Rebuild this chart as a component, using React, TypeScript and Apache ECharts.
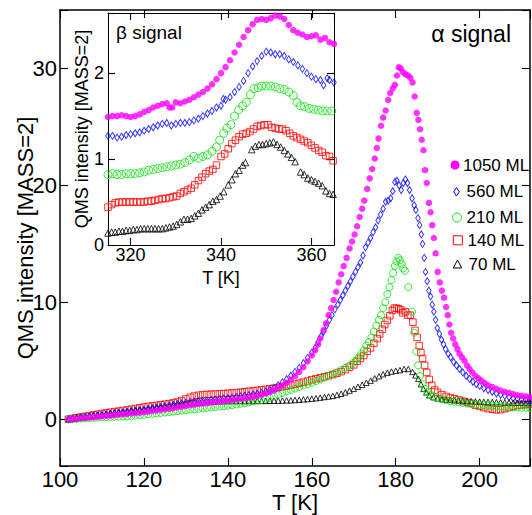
import React, { useEffect, useRef } from 'react';
import * as echarts from 'echarts';

// ---------- main panel (alpha signal) : [T (K), QMS intensity] ----------
const ml1050: number[][] = [
  [102,0],[103,0.03],[104,0.06],[105,0.09],[106,0.12],[107,0.15],[108,0.18],[109,0.21],[110,0.25],[111,0.28],
  [112,0.31],[113,0.35],[114,0.38],[115,0.42],[116,0.45],[117,0.49],[118,0.52],[119,0.56],[120,0.6],[121,0.65],
  [122,0.7],[123,0.75],[124,0.8],[125,0.85],[126,0.9],[127,0.96],[128,1.02],[129,1.08],[130,1.14],[131,1.2],
  [132,1.25],[133,1.3],[134,1.34],[135,1.38],[136,1.43],[137,1.47],[138,1.51],[139,1.55],[140,1.6],[141,1.65],
  [142,1.7],[143,1.75],[144,1.8],[145,1.86],[146,1.93],[147,2.0],[148,2.1],[149,2.2],[150,2.32],[151,2.47],
  [152,2.65],[153,2.88],[154,3.12],[155,3.4],[156,3.7],[157,4.05],[158,4.45],[159,4.95],[160,5.45],[160.8,5.9],
  [161.5,6.4],[162,6.9],[162.8,7.6],[163.4,8.2],[164,8.9],[164.6,9.5],[165.2,10.2],[165.8,10.9],[166.4,11.7],[167,12.4],
  [167.6,13.1],[168.3,13.8],[169,14.6],[169.6,15.2],[170.2,15.8],[170.8,16.5],[171.4,17.3],[172,18.0],[172.5,18.7],[173.2,19.7],
  [173.8,20.6],[174.4,21.4],[175,22.3],[175.5,23.2],[175.9,24.0],[176.5,25.1],[177,25.8],[177.6,26.4],[178.2,27.3],[178.7,27.9],
  [179.3,28.3],[179.8,28.6],[180.3,29.4],[180.7,30.1],[181.2,30.0],[181.7,29.7],[182.3,29.5],[182.9,29.4],[183.5,29.2],[184,28.8],
  [184.5,27.6],[185,26.2],[185.4,25.6],[185.8,24.8],[186.2,23.9],[186.6,23.0],[187,21.3],[187.4,20.2],[187.9,18.5],[188.3,17.7],
  [188.7,16.6],[189.1,15.5],[189.5,14.2],[190,12.6],[190.5,11.7],[191,11.0],[191.5,10.4],[192,9.6],[192.4,8.9],[192.8,8.1],
  [193.2,7.4],[193.7,6.9],[194.2,6.4],[194.7,6.0],[195.2,5.6],[195.8,5.3],[196.4,5.0],[197,4.6],[197.6,4.3],[198.3,4.0],
  [199,3.7],[199.7,3.5],[200.4,3.3],[201.2,3.1],[202,2.9],[203,2.75],[204,2.6],[205,2.45],[206,2.35],[207,2.25],
  [208,2.15],[209,2.05],[210,2.0],[211,1.95],[212,1.9]
];
const ml560: number[][] = [
  [102,0],[103,0.05],[104,0.1],[105,0.15],[106,0.2],[107,0.24],[108,0.28],[109,0.32],[110,0.36],[111,0.41],
  [112,0.46],[113,0.51],[114,0.56],[115,0.6],[116,0.65],[117,0.69],[118,0.73],[119,0.78],[120,0.82],[121,0.88],
  [122,0.94],[123,1.0],[124,1.06],[125,1.12],[126,1.18],[127,1.24],[128,1.3],[129,1.36],[130,1.41],[131,1.46],
  [132,1.5],[133,1.54],[134,1.57],[135,1.6],[136,1.64],[137,1.68],[138,1.72],[139,1.76],[140,1.8],[141,1.85],
  [142,1.9],[143,1.95],[144,2.0],[145,2.06],[146,2.12],[147,2.18],[148,2.25],[149,2.36],[150,2.5],[151,2.68],
  [152,2.9],[153,3.15],[154,3.42],[155,3.72],[156,4.05],[157,4.4],[158,4.8],[159,5.25],[160,5.7],[160.8,6.1],
  [161.5,6.6],[162.2,7.1],[162.8,7.5],[163.5,8.0],[164.2,8.5],[164.8,8.9],[165.5,9.4],[166.2,9.8],[166.8,10.2],[167.4,10.6],
  [168,11.0],[168.6,11.4],[169.2,11.8],[169.8,12.2],[170.4,12.6],[171,13.0],[171.6,13.4],[172.2,14.0],[172.8,14.7],[173.4,15.1],
  [174,15.5],[174.6,16.0],[175.2,16.4],[175.8,17.0],[176.4,17.5],[177,18.0],[177.6,18.6],[178.2,18.7],[178.8,18.9],[179.3,19.5],
  [179.8,20.3],[180.3,20.4],[180.8,20.0],[181.3,19.6],[181.8,20.2],[182.3,20.5],[182.8,20.2],[183.3,19.6],[183.9,18.9],[184.4,18.3],
  [184.8,17.9],[185.3,17.2],[185.7,16.6],[186.1,15.8],[186.4,15.0],[186.8,13.8],[187.1,12.6],[187.5,11.8],[187.9,11.0],[188.3,10.5],
  [188.7,9.8],[189.1,9.2],[189.5,8.5],[189.9,7.8],[190.4,7.3],[190.9,6.8],[191.4,6.4],[191.9,6.0],[192.5,5.6],[193.1,5.3],
  [193.8,4.9],[194.5,4.6],[195.2,4.3],[196,4.0],[196.8,3.7],[197.6,3.45],[198.4,3.2],[199.2,3.0],[200,2.85],[201,2.65],
  [202,2.5],[203,2.35],[204,2.2],[205,2.1],[206,2.0],[207,1.9],[208,1.8],[209,1.75],[210,1.7],[211,1.65],[212,1.6]
];
const ml210: number[][] = [
  [102,0],[103,0.02],[104,0.04],[105,0.06],[106,0.08],[107,0.1],[108,0.12],[109,0.14],[110,0.16],[111,0.18],
  [112,0.2],[113,0.21],[114,0.22],[115,0.24],[116,0.25],[117,0.28],[118,0.31],[119,0.35],[120,0.38],[121,0.42],
  [122,0.46],[123,0.5],[124,0.54],[125,0.58],[126,0.62],[127,0.66],[128,0.7],[129,0.74],[130,0.78],[131,0.82],
  [132,0.85],[133,0.89],[134,0.93],[135,0.97],[136,1.0],[137,1.04],[138,1.08],[139,1.11],[140,1.15],[141,1.2],
  [142,1.26],[143,1.32],[144,1.38],[145,1.45],[146,1.52],[147,1.59],[148,1.65],[149,1.75],[150,1.85],[151,1.95],
  [152,2.1],[153,2.25],[154,2.38],[155,2.5],[156,2.62],[157,2.75],[158,2.88],[159,3.0],[160,3.12],[161,3.25],
  [162,3.4],[163,3.55],[164,3.7],[165,3.85],[166,4.0],[167,4.2],[168,4.4],[169,4.6],[169.8,4.8],[170.5,5.0],
  [171.2,5.3],[171.8,5.6],[172.4,5.9],[173,6.3],[173.6,6.6],[174.2,7.0],[174.8,7.5],[175.4,8.0],[176,8.5],[176.5,8.9],
  [177,9.5],[177.5,10.0],[178,10.7],[178.5,11.3],[179,11.9],[179.4,12.5],[179.8,13.1],[180.2,13.5],[180.6,13.8],[181,13.6],
  [181.4,13.3],[181.8,12.9],[182.2,12.7],[183,11.3],[183.9,9.2],[184.4,7.4],[184.9,5.8],[185.3,4.6],[185.8,3.7],[186.4,3.0],
  [187,2.6],[187.6,2.35],[188.3,2.1],[189,1.95],[190,1.8],[191,1.7],[192,1.62],[193,1.55],[194,1.5],[195,1.45],
  [196,1.4],[197,1.35],[198,1.3],[199,1.26],[200,1.22],[201,1.19],[202,1.16],[203,1.13],[204,1.1],[205,1.08],
  [206,1.06],[207,1.04],[208,1.02],[209,1.0],[210,0.98],[211,0.97],[212,0.96]
];
const ml140: number[][] = [
  [102,0],[103,0.07],[104,0.13],[105,0.19],[106,0.25],[107,0.31],[108,0.37],[109,0.43],[110,0.49],[111,0.55],
  [112,0.6],[113,0.65],[114,0.7],[115,0.75],[116,0.8],[117,0.86],[118,0.92],[119,0.98],[120,1.04],[121,1.09],
  [122,1.14],[123,1.19],[124,1.24],[125,1.29],[126,1.34],[127,1.4],[128,1.48],[129,1.6],[130,1.74],[131,1.88],
  [132,1.98],[133,2.05],[134,2.1],[135,2.12],[136,2.14],[137,2.16],[138,2.18],[139,2.2],[140,2.22],[141,2.25],
  [142,2.28],[143,2.31],[144,2.35],[145,2.39],[146,2.43],[147,2.47],[148,2.51],[149,2.56],[150,2.61],[151,2.66],
  [152,2.72],[153,2.78],[154,2.85],[155,2.92],[156,3.0],[157,3.08],[158,3.17],[159,3.27],[160,3.37],[161,3.46],
  [162,3.55],[163,3.63],[164,3.72],[165,3.82],[166,3.93],[167,4.07],[168,4.25],[169,4.45],[170,4.65],[170.8,4.95],
  [171.6,5.2],[172.4,5.45],[173.2,5.8],[174,6.1],[174.8,6.5],[175.6,6.9],[176.2,7.3],[176.8,7.7],[177.4,8.1],[178,8.45],
  [178.6,8.85],[179.2,9.3],[179.7,9.5],[180.2,9.5],[180.7,9.45],[181.2,9.35],[181.7,9.1],[182.3,9.2],[182.9,8.9],[183.5,8.9],
  [184.1,8.3],[184.6,7.6],[185.1,7.0],[185.6,6.3],[186,5.7],[186.4,5.2],[186.9,4.6],[187.4,4.0],[188,3.4],[188.6,2.9],
  [189.3,2.5],[190,2.3],[191,2.1],[192,1.95],[193,1.85],[194,1.75],[195,1.65],[196,1.55],[197,1.45],[198,1.35],
  [199,1.2],[200,1.1],[201,1.0],[202,0.9],[203,0.85],[204,0.8],[205,0.82],[206,0.9],[207,1.0],[208,1.1],
  [209,1.18],[210,1.22],[211,1.25],[212,1.27]
];
const ml70: number[][] = [
  [102,0],[103,0.06],[104,0.12],[105,0.17],[106,0.22],[107,0.27],[108,0.32],[109,0.37],[110,0.42],[111,0.46],
  [112,0.5],[113,0.54],[114,0.58],[115,0.62],[116,0.66],[117,0.7],[118,0.74],[119,0.78],[120,0.82],[121,0.87],
  [122,0.92],[123,0.97],[124,1.02],[125,1.07],[126,1.12],[127,1.17],[128,1.22],[129,1.27],[130,1.32],[131,1.36],
  [132,1.4],[133,1.43],[134,1.46],[135,1.48],[136,1.5],[137,1.52],[138,1.53],[139,1.54],[140,1.55],[141,1.55],
  [142,1.56],[143,1.56],[144,1.56],[145,1.56],[146,1.56],[147,1.57],[148,1.57],[149,1.57],[150,1.58],[151,1.58],
  [152,1.59],[153,1.6],[154,1.61],[155,1.62],[156,1.65],[157,1.67],[158,1.7],[159,1.73],[160,1.76],[161,1.8],
  [162,1.85],[163,1.9],[164,1.95],[165,2.0],[166,2.08],[167,2.18],[168,2.3],[169,2.45],[170,2.6],[171,2.78],
  [172,2.95],[173,3.12],[174,3.3],[175,3.5],[176,3.68],[177,3.85],[178,3.98],[179,4.08],[180,4.15],[181,4.2],
  [182,4.3],[183,4.3],[184,4.05],[184.7,3.75],[185.4,3.45],[186,3.0],[186.6,2.6],[187.3,2.3],[188,2.05],[189,1.88],
  [190,1.78],[191,1.72],[192,1.68],[193,1.65],[194,1.62],[195,1.6],[196,1.58],[197,1.56],[198,1.54],[199,1.52],
  [200,1.5],[201,1.49],[202,1.48],[203,1.47],[204,1.46],[205,1.45],[206,1.44],[207,1.43],[208,1.42],[209,1.41],
  [210,1.4],[211,1.39],[212,1.38]
];

// ---------- inset (beta signal) : [T (K), QMS intensity] ----------
const b1050: number[][] = [
  [315,1.49],[316,1.5],[317,1.5],[318,1.51],[319,1.5],[320,1.49],[321,1.5],[322,1.52],[323,1.55],[324,1.57],
  [325,1.6],[326,1.62],[327,1.64],[328,1.65],[328.6,1.6],[329.2,1.6],[330,1.66],[331,1.65],[332,1.67],[333,1.69],
  [334,1.72],[335,1.75],[336,1.78],[337,1.82],[338,1.87],[339,1.93],[340,2.0],[341,2.07],[342,2.15],[343,2.24],
  [344,2.33],[345,2.42],[346,2.5],[347,2.57],[348,2.62],[349,2.63],[350,2.62],[351,2.64],[352,2.67],[353,2.66],
  [354,2.63],[355,2.56],[356,2.5],[357,2.47],[358,2.45],[359,2.42],[360,2.43],[361,2.44],[362,2.39],[363,2.41],
  [364,2.36],[365,2.34]
];
const b560: number[][] = [
  [315,1.27],[316,1.27],[317,1.25],[318,1.26],[319,1.28],[320,1.29],[321,1.3],[322,1.31],[323,1.33],[324,1.35],
  [325,1.37],[326,1.39],[327,1.41],[328,1.42],[329,1.39],[330,1.41],[331,1.42],[332,1.42],[333,1.43],[334,1.45],
  [335,1.47],[336,1.5],[337,1.53],[338,1.56],[339,1.6],[340,1.62],[340.5,1.7],[341,1.69],[342,1.72],[343,1.78],
  [344,1.84],[345,1.91],[346,2.0],[347,2.08],[348,2.14],[349,2.2],[350,2.25],[351,2.24],[352,2.22],[353,2.22],
  [354,2.2],[355,2.16],[356,2.13],[357,2.09],[358,2.05],[359,2.0],[360,1.96],[361,1.93],[362,1.92],[362.7,1.86],
  [363.5,1.94],[364,1.92],[365,1.89]
];
const b210: number[][] = [
  [315,0.82],[316,0.83],[317,0.82],[318,0.82],[319,0.83],[320,0.83],[321,0.83],[322,0.84],[323,0.85],[324,0.87],
  [325,0.88],[326,0.89],[327,0.9],[328,0.91],[329,0.92],[330,0.93],[331,0.94],[332,0.96],[333,0.99],[334,1.03],
  [335,1.01],[336,1.03],[337,1.05],[338,1.09],[339,1.14],[339.7,1.22],[340.6,1.3],[341.3,1.36],[342.2,1.4],[343,1.5],
  [343.9,1.57],[344.8,1.62],[345.6,1.66],[346.5,1.75],[347.3,1.82],[348.2,1.83],[349,1.85],[350,1.85],[351,1.85],[352,1.84],
  [353,1.82],[354,1.81],[355,1.78],[356,1.74],[356.8,1.66],[357.6,1.62],[358.5,1.61],[359.5,1.59],[360.5,1.58],[361.5,1.57],
  [362.5,1.56],[363.5,1.56],[364.5,1.56]
];
const b140: number[][] = [
  [315,0.44],[315.8,0.47],[316.6,0.49],[317.4,0.5],[318.2,0.5],[319,0.5],[319.8,0.5],[320.6,0.5],[321.4,0.5],[322.2,0.5],
  [323,0.5],[323.8,0.51],[324.6,0.51],[325.4,0.52],[326.2,0.53],[327,0.54],[327.8,0.54],[328.6,0.55],[329.4,0.56],[330.2,0.57],
  [331,0.6],[331.8,0.62],[332.6,0.64],[333.4,0.66],[334.2,0.7],[335,0.75],[335.8,0.79],[336.6,0.83],[337.4,0.86],[338.2,0.88],
  [339,0.93],[340,1.03],[340.8,1.06],[341.6,1.12],[342.4,1.18],[343.2,1.22],[344,1.26],[344.8,1.29],[345.6,1.3],[346.4,1.32],
  [347.2,1.35],[348,1.38],[348.8,1.39],[349.6,1.4],[350.4,1.4],[351.2,1.37],[352,1.36],[352.8,1.35],[353.6,1.35],[354.4,1.33],
  [355.2,1.3],[356,1.27],[356.8,1.25],[357.6,1.23],[358.4,1.21],[359.2,1.19],[360,1.16],[360.8,1.13],[361.6,1.1],[362.4,1.08],
  [363.2,1.04],[364,1.03],[364.8,0.98]
];
const b70: number[][] = [
  [315,0.14],[315.8,0.15],[316.6,0.15],[317.4,0.16],[318.2,0.16],[319,0.17],[319.8,0.17],[320.6,0.18],[321.4,0.18],[322.2,0.19],
  [323,0.19],[323.8,0.19],[324.6,0.19],[325.4,0.19],[326.2,0.19],[327,0.19],[327.8,0.2],[328.6,0.21],[329.4,0.22],[330.2,0.24],
  [331,0.27],[331.8,0.3],[332.6,0.3],[333.4,0.31],[334.2,0.34],[335,0.37],[335.8,0.41],[336.6,0.44],[337.4,0.47],[338.2,0.51],
  [339,0.53],[339.8,0.57],[340.6,0.62],[341.6,0.7],[342.4,0.76],[343.2,0.83],[344,0.87],[344.8,0.93],[345.4,0.96],[346.8,1.11],
  [347.6,1.15],[348.4,1.17],[349.2,1.17],[350,1.18],[350.8,1.19],[351.6,1.2],[352.4,1.17],[353.2,1.14],[354,1.1],[354.8,1.06],
  [355.6,1.02],[356.4,0.97],[357.6,0.85],[358.4,0.82],[359.2,0.78],[360,0.76],[360.8,0.74],[361.6,0.72],[362.4,0.69],[363.2,0.63],
  [364,0.6],[364.8,0.59]
];

const legendNames = ['1050 ML', '560 ML', '210 ML', '140 ML', '70 ML'];
const FONT = '"Liberation Sans", Arial, Helvetica, sans-serif';
const C_MAG = '#ff00ff';
const C_BLUE = '#0000ff';
const C_GREEN = '#00e600';
const C_RED = '#ff0000';
const C_BLACK = '#000000';

function scatter(name: string, data: number[][], axis: number, symbol: string, size: any, color: string, filled: boolean) {
  return {
    type: 'scatter',
    name,
    data,
    xAxisIndex: axis,
    yAxisIndex: axis,
    symbol,
    symbolSize: size,
    silent: true,
    clip: true,
    itemStyle: filled
      ? { color, borderWidth: 0 }
      : { color: 'rgba(0,0,0,0)', borderColor: color, borderWidth: 1 },
  };
}

function axisCommon(lw: number, tickLen: number) {
  return {
    type: 'value',
    axisLine: { show: true, onZero: false, lineStyle: { color: '#000', width: lw } },
    axisTick: { show: true, inside: true, length: tickLen, lineStyle: { color: '#000', width: 1.1 } },
    splitLine: { show: false },
    nameMoveOverlap: false,
  };
}

export default function App() {
  const ref = useRef<HTMLDivElement>(null);
  useEffect(() => {
    const chart = echarts.init(ref.current as HTMLDivElement, null, { renderer: 'svg' });
    const labelMain = { fontSize: 22, color: '#000', fontFamily: FONT };
    const labelInset = { fontSize: 18, color: '#000', fontFamily: FONT };
    const option: any = {
      animation: false,
      backgroundColor: '#fff',
      grid: [
        { left: 60, top: 10, right: 2, bottom: 49, show: false, containLabel: false, outerBoundsMode: 'none' },
        { left: 108, top: 13, width: 226, height: 232, show: true, backgroundColor: '#fff', borderWidth: 0, containLabel: false, outerBoundsMode: 'none' },
      ],
      xAxis: [
        {
          ...axisCommon(1.5, 8), gridIndex: 0, min: 100, max: 212, interval: 20, position: 'bottom',
          axisLabel: { ...labelMain, margin: 2, formatter: (v: number) => (v % 20 === 0 ? String(v) : '') },
          name: 'T [K]', nameLocation: 'middle', nameGap: 25, nameTextStyle: labelMain,
        },
        {
          ...axisCommon(1.5, 8), gridIndex: 0, min: 100, max: 212, interval: 20, position: 'top',
          axisLabel: { show: false },
        },
        {
          ...axisCommon(1, 7), gridIndex: 1, min: 315, max: 365, splitNumber: 3, position: 'bottom',
          axisLabel: { ...labelInset, margin: 1, formatter: (v: number) => (v % 20 === 0 ? String(v) : '') },
          name: 'T [K]', nameLocation: 'middle', nameGap: 24, nameTextStyle: labelInset,
        },
        {
          ...axisCommon(1, 7), gridIndex: 1, min: 315, max: 365, splitNumber: 3, position: 'top',
          axisLabel: { show: false },
        },
      ],
      yAxis: [
        {
          ...axisCommon(1.5, 8), gridIndex: 0, min: -4, max: 35, splitNumber: 4, position: 'left',
          axisLabel: { ...labelMain, margin: 3, formatter: (v: number) => (Math.abs(v % 10) < 1e-9 ? String(Math.round(v)) : '') },
          name: 'QMS intensity [MASS=2]', nameLocation: 'middle', nameGap: 24, nameRotate: 90, nameTextStyle: labelMain,
        },
        {
          ...axisCommon(1.5, 8), gridIndex: 0, min: -4, max: 35, splitNumber: 4, position: 'right',
          axisLabel: { show: false },
        },
        {
          ...axisCommon(1, 7), gridIndex: 1, min: 0, max: 2.7, interval: 1, position: 'left',
          axisLabel: { ...labelInset, margin: 4, formatter: (v: number) => (Number.isInteger(v) ? String(v) : '') },
          name: 'QMS intensity [MASS=2]', nameLocation: 'middle', nameGap: 17, nameRotate: 90, nameTextStyle: labelInset,
        },
        {
          ...axisCommon(1, 7), gridIndex: 1, min: 0, max: 2.7, interval: 1, position: 'right',
          axisLabel: { show: false },
        },
      ],
      series: [
        scatter(legendNames[3], ml140, 0, 'rect', 6.5, C_RED, false),
        scatter(legendNames[4], ml70, 0, 'triangle', 5.5, C_BLACK, false),
        scatter(legendNames[2], ml210, 0, 'circle', 7, C_GREEN, false),
        scatter(legendNames[1], ml560, 0, 'diamond', [4.5, 7], C_BLUE, false),
        scatter(legendNames[0], ml1050, 0, 'circle', 6.5, C_MAG, true),
        scatter(legendNames[4] + ' b', b70, 2, 'triangle', 6.5, C_BLACK, false),
        scatter(legendNames[3] + ' b', b140, 2, 'rect', 6.5, C_RED, false),
        scatter(legendNames[2] + ' b', b210, 2, 'circle', 8, C_GREEN, false),
        scatter(legendNames[1] + ' b', b560, 2, 'diamond', [4.5, 7], C_BLUE, false),
        scatter(legendNames[0] + ' b', b1050, 2, 'circle', 6.5, C_MAG, true),
      ],
      graphic: [
        { type: 'text', z: 100, x: 511, y: 34, style: { text: 'α signal', font: `23px ${FONT}`, fill: '#000', textAlign: 'right', textVerticalAlign: 'middle' } },
        { type: 'text', z: 100, x: 116, y: 32, style: { text: 'β signal', font: `19px ${FONT}`, fill: '#000', textAlign: 'left', textVerticalAlign: 'middle' } },
        // legend
        { type: 'circle', z: 100, shape: { cx: 455, cy: 165, r: 4.5 }, style: { fill: C_MAG } },
        { type: 'polygon', z: 100, shape: { points: [[456.5, 187.5], [459.2, 191.8], [456.5, 196.1], [453.8, 191.8]] }, style: { fill: 'none', stroke: C_BLUE, lineWidth: 1 } },
        { type: 'circle', z: 100, shape: { cx: 457, cy: 217.5, r: 4.5 }, style: { fill: 'none', stroke: C_GREEN, lineWidth: 1 } },
        { type: 'rect', z: 100, shape: { x: 453.3, y: 235.8, width: 9, height: 9 }, style: { fill: 'none', stroke: C_RED, lineWidth: 1 } },
        { type: 'polygon', z: 100, shape: { points: [[457.5, 260], [461.7, 268], [453.3, 268]] }, style: { fill: 'none', stroke: C_BLACK, lineWidth: 1 } },
        { type: 'text', z: 100, x: 463, y: 165, style: { text: legendNames[0], font: `17px ${FONT}`, fill: '#000', textVerticalAlign: 'middle' } },
        { type: 'text', z: 100, x: 466.5, y: 191.5, style: { text: legendNames[1], font: `17px ${FONT}`, fill: '#000', textVerticalAlign: 'middle' } },
        { type: 'text', z: 100, x: 466.5, y: 217.5, style: { text: legendNames[2], font: `17px ${FONT}`, fill: '#000', textVerticalAlign: 'middle' } },
        { type: 'text', z: 100, x: 467.5, y: 240.5, style: { text: legendNames[3], font: `17px ${FONT}`, fill: '#000', textVerticalAlign: 'middle' } },
        { type: 'text', z: 100, x: 468.5, y: 264.5, style: { text: legendNames[4], font: `17px ${FONT}`, fill: '#000', textVerticalAlign: 'middle' } },
      ],
    };
    chart.setOption(option);
    return () => chart.dispose();
  }, []);
  return <div ref={ref} style={{ position: 'absolute', left: 0, top: 0, width: 532, height: 515 }} />;
}
